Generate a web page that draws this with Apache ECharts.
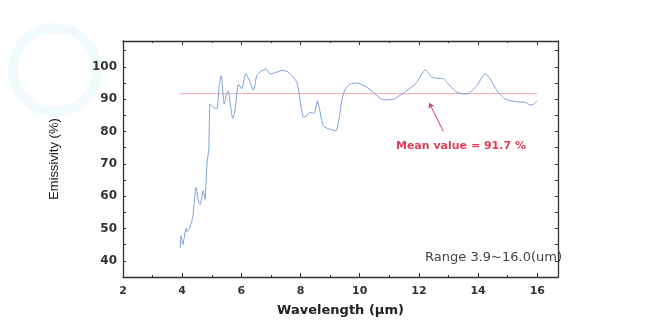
<!DOCTYPE html>
<html><head><meta charset="utf-8">
<script src="https://cdn.jsdelivr.net/npm/echarts@6/dist/echarts.min.js"></script>
<style>html,body{margin:0;padding:0;background:#fff}#c{width:647px;height:336px}</style>
</head><body><div id="c"></div>
<script>
const wavelength = [3.93,3.96,4.02,4.13,4.16,4.27,4.36,4.47,4.56,4.60,4.71,4.77,4.84,4.90,4.94,5.04,5.17,5.25,5.32,5.42,5.51,5.55,5.71,5.79,5.90,6.01,6.15,6.27,6.41,6.52,6.63,6.84,6.97,7.20,7.37,7.54,7.70,7.87,7.96,8.10,8.21,8.32,8.46,8.57,8.64,8.77,9.00,9.20,9.31,9.40,9.51,9.68,9.90,10.24,10.58,10.80,11.14,11.59,11.93,12.21,12.32,12.44,12.61,12.83,12.95,13.29,13.62,13.96,14.24,14.41,14.64,14.92,15.31,15.60,15.76,15.88,15.99];
const emissivity = [44,47.8,45,50,49,50.6,53.7,62.7,58,57.4,61.7,59,70.5,74.5,88.5,87.6,87,94.2,97.3,88.5,92,92.6,84,86.9,94.7,93.2,98,95.7,92.8,97.3,98.4,99.4,97.8,98.4,98.9,98.6,97.4,95.3,91.2,84.4,84.9,85.9,85.6,89.5,86.9,81.7,80.7,80.2,84.4,90.0,93.1,94.7,95.0,93.7,91.1,89.8,90.0,92.6,95.2,99.0,98.1,96.8,96.5,96.3,95.2,92.1,91.6,94.2,97.9,96.3,92.6,90.0,89.2,89.0,88.2,88.5,89.5];
const meanValue = 91.7;
const meanRange = [3.9, 16.0];
const xTicks = [2,4,6,8,10,12,14,16];
const yTicks = [40,50,60,70,80,90,100];

const chart = echarts.init(document.getElementById('c'));
const data = wavelength.map((x,i)=>[x, emissivity[i]]);
const axisCol = '#333';
const baseX = {type:'value', min:2, max:16.7, interval:2,
  axisLine:{show:true, lineStyle:{color:axisCol, width:1.3}},
  axisTick:{show:true, inside:true, length:4, lineStyle:{color:axisCol}},
  minorTick:{show:true, splitNumber:2, length:2, lineStyle:{color:axisCol}},
  splitLine:{show:false}};
const baseY = {type:'value', min:35, max:108, interval:5,
  axisLine:{show:true, lineStyle:{color:axisCol, width:1.3}},
  axisTick:{show:true, inside:true, length:3, lineStyle:{color:axisCol}},
  splitLine:{show:false}};
chart.setOption({
  animation:false,
  grid:{left:123, right:89, top:41, bottom:59},
  graphic:[
    {type:'circle', shape:{cx:55, cy:70, r:42}, style:{fill:'none', stroke:'#f1fbfd', lineWidth:10}, z:-1},
    {type:'text', right:85, top:251, style:{text:'Range 3.9~16.0(um)', font:'13px "DejaVu Sans"', fill:'#444'}}
  ],
  xAxis:[
    Object.assign({}, baseX, {position:'bottom', name:'Wavelength (\u03bcm)', nameLocation:'middle', nameGap:27,
      nameTextStyle:{fontFamily:'DejaVu Sans', fontWeight:'bold', fontSize:13, color:'#222'},
      axisLabel:{showMaxLabel:false, margin:9, fontFamily:'DejaVu Sans', fontWeight:'bold', fontSize:11, color:'#333',
        formatter:v=> xTicks.includes(v) ? String(v) : ''}}),
    Object.assign({}, baseX, {position:'top', axisLabel:{show:false}})
  ],
  yAxis:[
    Object.assign({}, baseY, {position:'left', name:'Emissivity (%)', nameLocation:'middle', nameGap:62,
      nameTextStyle:{fontFamily:'Liberation Sans', fontSize:13, color:'#222'},
      axisLabel:{margin:6, fontFamily:'DejaVu Sans', fontWeight:'bold', fontSize:12, color:'#333',
        formatter:v=> yTicks.includes(v) ? String(v) : ''}}),
    Object.assign({}, baseY, {position:'right', axisLabel:{show:false}})
  ],
  series:[
    {type:'line', data:[[meanRange[0], meanValue],[meanRange[1], meanValue]], showSymbol:false, silent:true,
     lineStyle:{color:'#f3aaaa', width:1}, z:1},
    {type:'line', data:data, showSymbol:false, smooth:0.2, z:2,
     lineStyle:{color:'#7e9fd8', width:1},
     markLine:{silent:true, symbol:'none', animation:false,
       label:{show:false},
       data:[
         [{coord:[12.82, 80.1], symbol:'none', lineStyle:{color:'#d04050', width:1, type:'solid'}},
          {coord:[12.35, 88.8], symbol:'arrow', symbolSize:5}]
       ]},
     markPoint:{silent:true, symbol:'circle', symbolSize:0,
       data:[{coord:[13.42, 75.4], label:{show:true, position:'inside', formatter:'Mean value = ' + meanValue + ' %',
         fontFamily:'DejaVu Sans', fontWeight:'bold', fontSize:11, color:'#e0405a'}}]}
    }
  ]
});
</script></body></html>
